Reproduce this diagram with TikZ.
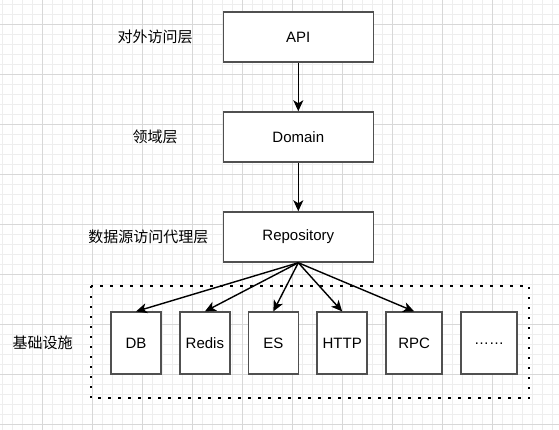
\documentclass[tikz,border=0pt]{standalone}
\usepackage{fontspec}
\setmainfont{Liberation Sans}
\newfontfamily\cjk{Noto Sans CJK SC}
\usetikzlibrary{arrows.meta}
\definecolor{gridminor}{RGB}{238,238,238}
\definecolor{gridmajor}{RGB}{216,216,216}
\definecolor{boxline}{RGB}{80,80,80}
\tikzset{
  layerbox/.style={draw=boxline, line width=1.5pt, fill=white, minimum width=150pt, minimum height=50pt, inner sep=0pt, font=\fontsize{15}{17}\selectfont},
  infrabox/.style={draw=boxline, line width=1.5pt, fill=white, minimum width=50pt, minimum height=62pt, inner sep=0pt, font=\fontsize{15}{17}\selectfont},
  layerlabel/.style={inner sep=0pt, font=\cjk\fontsize{15}{17}\selectfont},
  flow/.style={line width=1.4pt, -{Stealth[length=11pt,width=10pt,inset=3pt]}},
  dotbox/.style={draw=black, line width=2.2pt, dash pattern=on 2.2pt off 7.8pt}
}
\begin{document}
\begin{tikzpicture}[x=1pt,y=-1pt]
\useasboundingbox (0,0) rectangle (559,430);
\fill[white] (0,0) rectangle (559,430);
% grid
\foreach \i in {0,...,56} {
  \draw[gridminor, line width=0.8pt] ({2.7+10*\i},0) -- ({2.7+10*\i},430);
}
\foreach \i in {0,...,43} {
  \draw[gridminor, line width=0.8pt] (0,{4.3+10*\i}) -- (559,{4.3+10*\i});
}
\foreach \i in {0,...,10} {
  \draw[gridmajor, line width=0.8pt] ({42.7+50*\i-50},0) -- ({42.7+50*\i-50},430);
}
\foreach \i in {0,...,8} {
  \draw[gridmajor, line width=0.8pt] (0,{24.3+50*\i}) -- (559,{24.3+50*\i});
}
% dotted container
\draw[dotbox] (90.7,286) rectangle (529.3,398.3);
% layer boxes
\node[layerbox] (api) at (298.3,37) {API};
\node[layerbox] (domain) at (298.3,137) {Domain};
\node[layerbox] (repo) at (298.3,237) {Repository};
% labels
\node[layerlabel] (l1) at (155,37) {对外访问层};
\node[layerlabel] (l2) at (155,137) {领域层};
\node[layerlabel] (l3) at (148.3,237) {数据源访问代理层};
\node[layerlabel] (l4) at (42.7,343) {基础设施};
% infrastructure boxes
\node[infrabox] (db) at (136,343.2) {DB};
\node[infrabox] (redis) at (204.9,343.2) {Redis};
\node[infrabox] (es) at (273.3,343.2) {ES};
\node[infrabox] (http) at (342.2,343.2) {HTTP};
\node[infrabox, minimum width=56pt] (rpc) at (414.2,343.2) {RPC};
\node[infrabox, minimum width=56pt] (more) at (489,343.2) {……};
% connectors
\draw[flow] (api.south) -- (domain.north);
\draw[flow] (domain.south) -- (repo.north);
\draw[flow] (repo.south) -- (db.north);
\draw[flow] (repo.south) -- (redis.north);
\draw[flow] (repo.south) -- (es.north);
\draw[flow] (repo.south) -- (http.north);
\draw[flow] (repo.south) -- (rpc.north);
\end{tikzpicture}
\end{document}
